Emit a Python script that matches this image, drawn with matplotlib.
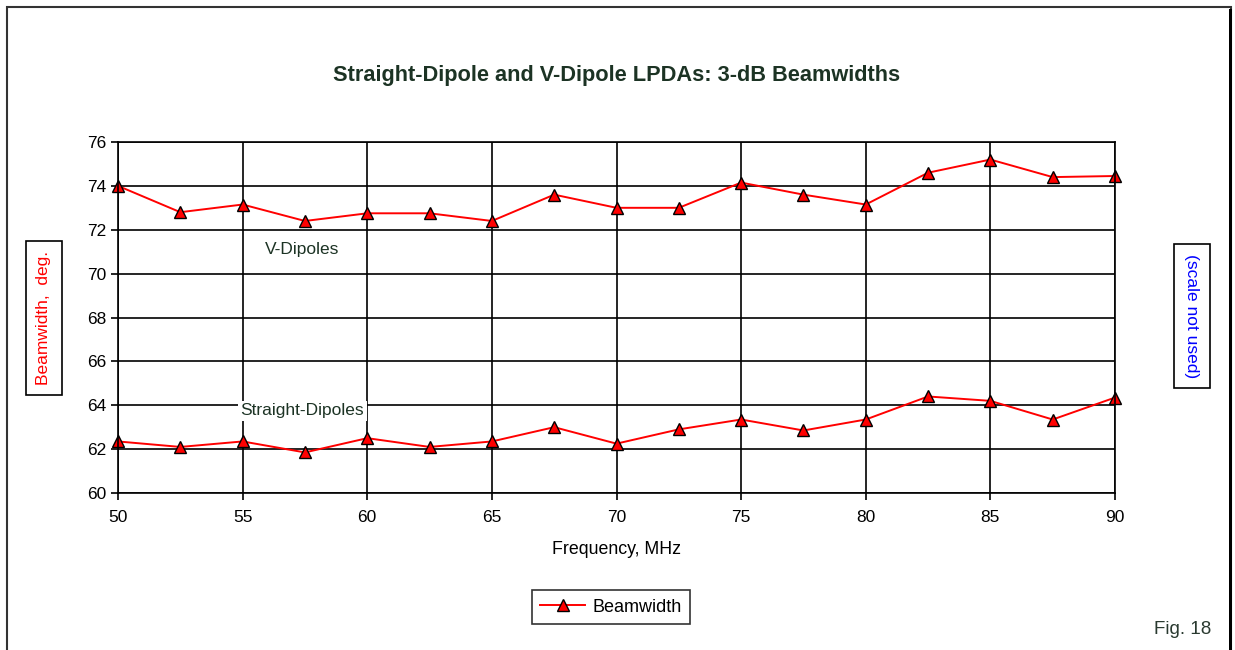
import matplotlib.pyplot as plt
from matplotlib.patches import Rectangle

plt.rcParams["font.family"] = ["Liberation Sans", "DejaVu Sans"]

# frequency points, MHz
freq = [50, 52.5, 55, 57.5, 60, 62.5, 65, 67.5, 70, 72.5, 75, 77.5, 80, 82.5, 85, 87.5, 90]
# 3-dB beamwidth, deg.
v_dipoles = [74.0, 72.8, 73.15, 72.4, 72.75, 72.75, 72.4, 73.6, 73.0, 73.0, 74.15,
             73.6, 73.15, 74.6, 75.2, 74.4, 74.45]
straight_dipoles = [62.35, 62.1, 62.35, 61.85, 62.5, 62.1, 62.35, 63.0, 62.25, 62.9, 63.35,
                    62.85, 63.35, 64.4, 64.2, 63.35, 64.35]

x_ticks = [50, 55, 60, 65, 70, 75, 80, 85, 90]
y_ticks = [60, 62, 64, 66, 68, 70, 72, 74, 76]

title_color = "#1c3324"

fig = plt.figure(figsize=(12.35, 6.5), dpi=100)
ax = fig.add_axes([118 / 1235, 1 - 493 / 650, (1115 - 118) / 1235, (493 - 142) / 650])

style = dict(color="red", lw=1.4, marker="^", markersize=8, clip_on=False,
             markerfacecolor="red", markeredgecolor="black", markeredgewidth=1.0)
ax.plot(freq, v_dipoles, label="Beamwidth", **style)
ax.plot(freq, straight_dipoles, label="_nolegend_", **style)

ax.set_xlim(50, 90)
ax.set_ylim(60, 76)
ax.set_xticks(x_ticks)
ax.set_yticks(y_ticks)
ax.grid(True, color="black", lw=1.2)
ax.set_axisbelow(True)
for sp in ax.spines.values():
    sp.set_color("black")
    sp.set_linewidth(1.2)
ax.tick_params(axis="both", direction="out", length=5, width=1.2, labelsize=12.5, colors="black")
ax.tick_params(axis="x", pad=7)

ax.text(57.4, 71.1, "V-Dipoles", fontsize=12.5, color=title_color, ha="center", va="center")
ax.text(57.4, 63.74, "Straight-Dipoles", fontsize=12.5, color=title_color, ha="center", va="center",
        bbox=dict(facecolor="white", edgecolor="none", pad=2))

# title and axis labels
fig.text(617 / 1235, 1 - 75 / 650, "Straight-Dipole and V-Dipole LPDAs: 3-dB Beamwidths",
         fontsize=15.7, fontweight="bold", color=title_color, ha="center", va="center")
fig.text(617 / 1235, 1 - 550 / 650, "Frequency, MHz", fontsize=12.8, ha="center", va="center")
fig.text(44 / 1235, 1 - 318 / 650, "Beamwidth,  deg.", fontsize=12.5, color="red", rotation=90,
         ha="center", va="center",
         bbox=dict(facecolor="white", edgecolor="black", lw=1.2, boxstyle="square,pad=0.6"))
fig.text(1192 / 1235, 1 - 316 / 650, "(scale not used)", fontsize=12.5, color="blue", rotation=270,
         ha="center", va="center",
         bbox=dict(facecolor="white", edgecolor="black", lw=1.2, boxstyle="square,pad=0.6"))
fig.text(1183 / 1235, 1 - 629 / 650, "Fig. 18", fontsize=13.5, color="#2a3a30", ha="center", va="center")

leg = fig.legend(loc="center", bbox_to_anchor=(611 / 1235, 1 - 607 / 650), fontsize=13,
                 frameon=True, fancybox=False, edgecolor="black", handlelength=2.5,
                 handletextpad=0.4, borderpad=0.45, borderaxespad=0)
leg.get_frame().set_linewidth(1.2)

# outer frame
fig.patches.append(Rectangle((7 / 1235, -0.01), (1224 / 1235), 1 - 7 / 650 + 0.01,
                             transform=fig.transFigure, fill=False, edgecolor="#333333", lw=1.5))
fig.patches.append(Rectangle((1229 / 1235, -0.01), 3 / 1235, 1 - 9 / 650 + 0.01,
                             transform=fig.transFigure, facecolor="black", edgecolor="none"))

plt.savefig("out.png", dpi=100)
